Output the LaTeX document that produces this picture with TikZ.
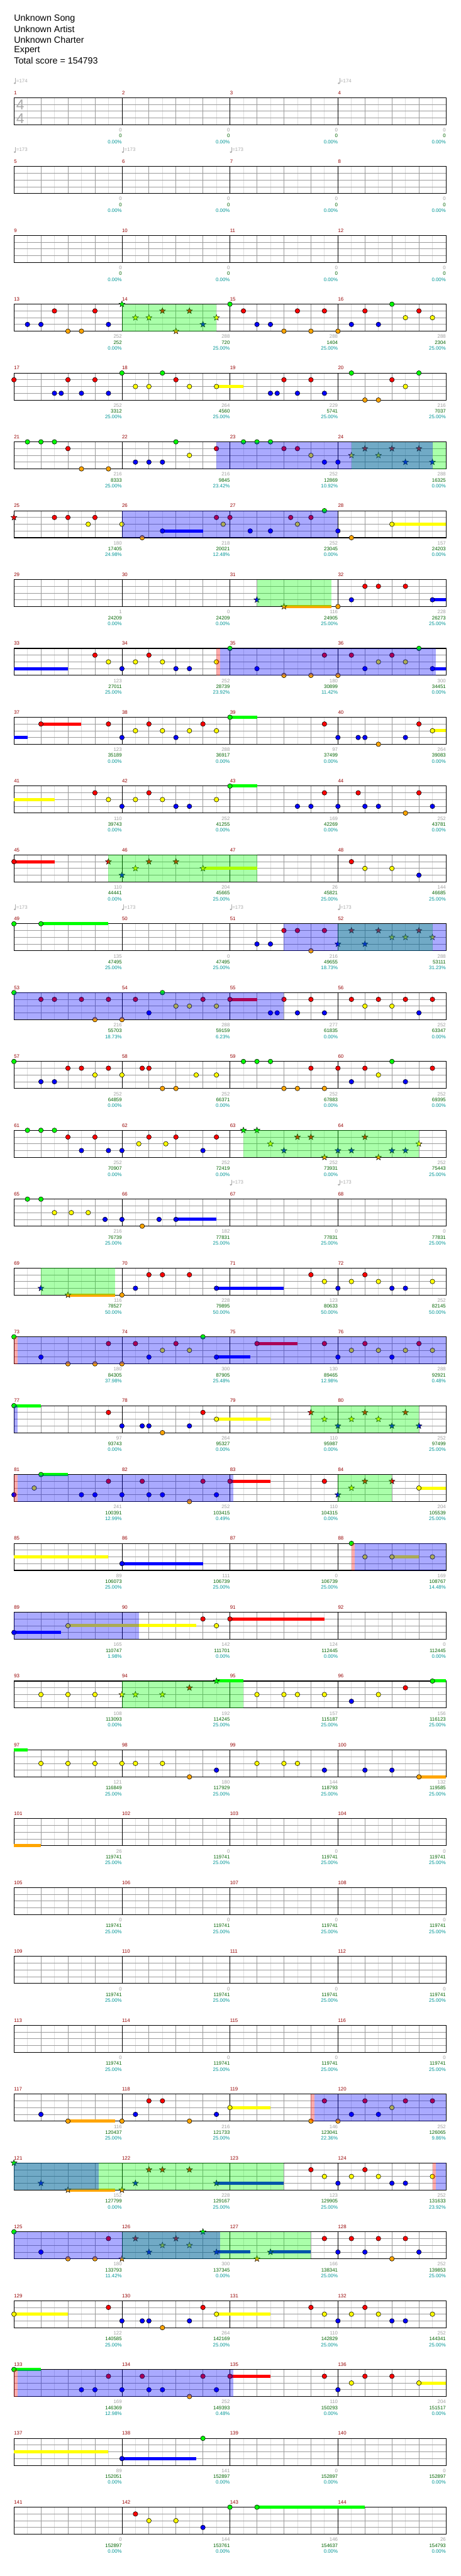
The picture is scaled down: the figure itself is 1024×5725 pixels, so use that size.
\documentclass[tikz,border=0pt]{standalone}
\usepackage{fontspec}
\setmainfont{Liberation Sans}
\usetikzlibrary{shapes.geometric}
\definecolor{lane0}{RGB}{0,255,0}
\definecolor{lane1}{RGB}{255,0,0}
\definecolor{lane2}{RGB}{255,255,0}
\definecolor{lane3}{RGB}{0,0,255}
\definecolor{lane4}{RGB}{255,165,0}
\definecolor{mnumc}{RGB}{150,0,0}
\definecolor{scgray}{RGB}{160,160,160}
\definecolor{scgreen}{RGB}{0,100,0}
\definecolor{scteal}{RGB}{0,150,150}
\definecolor{gridlt}{RGB}{222,222,222}
\definecolor{griddk}{RGB}{155,155,155}
\definecolor{tsig}{RGB}{170,170,170}
\tikzset{
  smalltxt/.style={inner sep=0pt, font=\fontsize{8.25pt}{9pt}\selectfont},
  mnum/.style={smalltxt, text=mnumc, anchor=west},
  scA/.style={smalltxt, text=scgray, anchor=east},
  scB/.style={smalltxt, text=scgreen, anchor=east},
  scC/.style={smalltxt, text=scteal, anchor=east},
  titletxt/.style={inner sep=0pt, anchor=west, font=\fontsize{15pt}{18pt}\selectfont},
  starnote/.style={star, star points=5, star point ratio=2.4, minimum size=10.5pt, inner sep=0pt, draw=black, line width=0.5pt},
}
\newcommand\chNotes[2]{%
  \foreach \TT/\LL in {#2}{%
    \filldraw[fill=lane\LL, draw=black, line width=0.6pt] ({31+15*\TT},{217+153*#1+15*\LL}) circle [radius=3.9pt];}}
\newcommand\chStars[2]{%
  \foreach \TT/\LL in {#2}{%
    \node[starnote, fill=lane\LL] (st-#1-\TT-\LL) at ({31+15*\TT},{217+153*#1+15*\LL}) {};}}
\newcommand\chSus[2]{%
  \foreach \TA/\TB/\LL in {#2}{%
    \fill[fill=lane\LL] ({31+15*\TA},{217+153*#1+15*\LL-3.5}) rectangle ({31+15*\TB},{217+153*#1+15*\LL+3.5});}}
\newcommand\chOver[3]{%
  \foreach \TA/\TB in {#3}{%
    \fill[fill=#2, fill opacity=0.333] ({31+15*\TA},{217+153*#1}) rectangle ({31+15*\TB},{217+153*#1+60});}}
\newcommand\chScores[2]{%
  \foreach \SA/\SB/\SC [count=\II from 0] in {#2}{%
    \pgfmathtruncatemacro\MM{4*#1+\II+1}%
    \node[scA] (sa\MM) at ({31+240*(\II+1)},{217+153*#1+72}) {\SA};
    \node[scB] (sb\MM) at ({31+240*(\II+1)},{217+153*#1+85}) {\SB};
    \node[scC] (sc\MM) at ({31+240*(\II+1)},{217+153*#1+98}) {\SC};}}
\newcommand\chTempo[3]{%
  \fill[tsig] ({#1+2},{#2+5}) ellipse [x radius=1.9pt, y radius=1.4pt];
  \draw[tsig, line width=0.5pt] ({#1+3.4},{#2+5}) -- ({#1+3.4},{#2-6});
  \node[smalltxt, text=tsig, anchor=west] (tp-#1-#2) at ({#1+5},#2) {=#3};}
\begin{document}
\begin{tikzpicture}[x=0.75pt,y=-0.75pt]
\useasboundingbox (0,0) rectangle (1024,5725);
\fill[white] (0,0) rectangle (1024,5725);
% title block
\node[titletxt] (t1) at (31,42) {Unknown Song};
\node[titletxt] (t2) at (31,65) {Unknown Artist};
\node[titletxt] (t3) at (31,88) {Unknown Charter};
\node[titletxt] (t4) at (31,112) {Expert};
\node[titletxt] (t5) at (31,135) {Total score = 154793};
% staves
\foreach \r in {0,...,35}{
  \pgfmathsetmacro\Y{217+153*\r}
  \foreach \k in {1,3,...,31} \draw[gridlt, line width=0.75pt] ({31+30*\k},\Y) -- ++(0,60);
  \foreach \k in {1,...,15} \draw[griddk, line width=0.75pt] ({31+60*\k},\Y) -- ++(0,60);
  \foreach \k in {1,2,3} \draw[griddk, line width=0.75pt] (31,{\Y+15*\k}) -- (991,{\Y+15*\k});
  \foreach \k in {1,2,3} \draw[black, line width=0.75pt] ({31+240*\k},\Y) -- ++(0,60);
  \draw[black, line width=1.1pt] (31,\Y) rectangle (991,{\Y+60});
  \foreach \c in {0,...,3}{
    \pgfmathtruncatemacro\m{4*\r+\c+1}
    \node[mnum] (mn\m) at ({31+240*\c},{\Y-11}) {\m};
  }
}
% time signature and tempo marks
\node[inner sep=0pt, text=tsig, font=\fontsize{24pt}{24pt}\selectfont] (ts1) at (45,233) {4};
\node[inner sep=0pt, text=tsig, font=\fontsize{24pt}{24pt}\selectfont] (ts2) at (45,263) {4};
\chTempo{31}{180}{174}
\chTempo{751}{180}{174}
\chTempo{31}{333}{173}
\chTempo{271}{333}{173}
\chTempo{511}{333}{173}
\chTempo{31}{2016}{173}
\chTempo{271}{2016}{173}
\chTempo{511}{2016}{173}
\chTempo{751}{2016}{173}
\chTempo{511}{2628}{173}
\chTempo{751}{2628}{173}
% row 3
\chNotes{3}{2/3,4/3,6/1,8/4,10/4,12/1,14/3,32/0,34/1,36/3,38/3,40/4,42/1,44/4,46/1,48/4,50/3,52/1,54/3,56/0,58/2,60/1,62/2}
\chStars{3}{16/0,18/2,20/2,22/1,24/4,26/1,28/3,30/2}
\chOver{3}{green}{16/30}
% row 4
\chSus{4}{30/34/2}
\chNotes{4}{0/1,6/3,7/3,8/1,10/3,12/1,14/3,16/0,18/2,20/2,22/0,24/1,26/2,30/2,38/3,39/3,40/1,42/3,44/1,46/3,50/0,52/4,54/4,56/1,58/2,60/0}
% row 5
\chNotes{5}{2/0,4/0,6/0,8/1,10/4,14/4,18/3,20/3,22/3,24/0,26/2,30/1,34/0,36/0,38/0,40/1,42/1,44/2,46/3,48/3}
\chStars{5}{50/2,52/1,54/2,56/1,58/3,60/1,62/3}
\chOver{5}{green}{50/64}
\chOver{5}{blue}{30/62}
% row 6
\chSus{6}{22/28/3,56/64/2}
\chNotes{6}{6/1,8/1,11/2,12/1,16/2,19/4,22/3,30/1,31/2,32/1,35/3,38/3,41/1,42/2,44/1,46/0,48/3,50/4,56/2}
\chStars{6}{0/1}
\chOver{6}{blue}{16/48}
% row 7
\chSus{7}{40/47/4,62/64/3}
\chNotes{7}{48/4,50/3,52/1,54/1,58/1,62/3}
\chStars{7}{36/3,40/4}
\chOver{7}{green}{36/47}
% row 8
\chSus{8}{0/8/3,62/64/3}
\chNotes{8}{12/1,14/2,16/3,18/2,20/1,22/2,24/3,26/3,30/2,32/0,36/3,40/4,44/4,46/1,48/4,50/1,52/3,54/2,56/1,58/2,60/0,62/3}
\chOver{8}{red}{30/30.5}
\chOver{8}{blue}{30.5/62.5}
% row 9
\chSus{9}{0/2/3,4/10/1,32/36/0,62/64/2}
\chNotes{9}{4/1,14/1,16/3,18/2,20/1,22/2,24/3,26/2,28/1,30/2,32/0,46/1,48/3,51/3,52/3,54/4,58/3,60/1,62/2}
% row 10
\chSus{10}{0/6/2,32/36/0}
\chNotes{10}{12/1,14/2,16/3,18/2,20/1,22/2,24/3,26/3,30/2,32/0,42/3,44/3,46/1,48/3,51/1,52/3,54/3,58/4,60/1,62/3}
% row 11
\chSus{11}{0/6/1,28/36/2}
\chNotes{11}{0/1,50/1,52/2,56/2,60/3}
\chStars{11}{14/1,16/3,18/2,20/1,24/1,28/2}
\chOver{11}{green}{14/36}
% row 12
\chSus{12}{4/14/0}
\chNotes{12}{0/0,4/0,36/3,38/3,40/1,42/1,44/4,46/1}
\chStars{12}{48/3,50/1,52/3,54/1,56/2,58/2,60/1,62/2}
\chOver{12}{green}{48/62}
\chOver{12}{blue}{40/64}
% row 13
\chSus{13}{32/36/1}
\chNotes{13}{0/0,4/1,6/1,10/1,12/4,14/1,16/4,18/1,20/3,22/0,24/2,26/2,28/1,30/2,32/1,38/3,39/3,40/1,42/3,44/1,46/3,50/1,52/2,54/1,56/2,58/1,60/3,62/1}
\chOver{13}{blue}{0/40}
% row 14
\chNotes{14}{0/0,4/3,6/3,8/1,10/1,12/2,14/1,16/2,19/1,20/1,22/4,24/4,27/2,30/2,34/0,36/0,38/0,40/4,42/4,44/1,46/4,48/1,50/3,52/1,54/2,56/0,58/3,62/1}
% row 15
\chNotes{15}{2/0,4/0,6/0,8/1,10/3,12/1,14/3,16/3,18.5/2,20/1,22.5/2,24/1,28/3,30/1}
\chStars{15}{34/0,36/0,38/2,40/3,42/1,44/1,46/4,48/3,50/3,52/1,54/4,56/3,58/3,60/2}
\chOver{15}{green}{34/60}
% row 16
\chSus{16}{24/30/3}
\chNotes{16}{2/0,4/0,6/2,8.5/2,11/2,13.5/3,16/3,19/4,21.5/3,24/3}
% row 17
\chSus{17}{8/15/4,30/40/3}
\chNotes{17}{16/4,18/3,20/1,22/1,26/1,30/3,44/1,46/2,48/3,50/2,52/1,54/2,56/3,58/3,62/2}
\chStars{17}{4/3,8/4}
\chOver{17}{green}{4/15}
% row 18
\chSus{18}{30/35/3,36/42/1}
\chNotes{18}{0/0,4/3,8/4,12/4,14/1,16/4,18/1,20/3,22/2,24/1,26/2,28/0,30/3,36/1,46/1,48/3,50/2,52/1,54/2,56/3,58/2,60/1,62/2}
\chOver{18}{red}{0/0.5}
\chOver{18}{blue}{0.5/64}
% row 19
\chSus{19}{0/4/0,30/38/2}
\chNotes{19}{0/0,14/1,16/3,19/3,20/3,22/4,26/3,28/1,30/2}
\chStars{19}{44/1,46/2,48/3,50/2,52/1,54/2,56/3,58/1,60/3}
\chOver{19}{blue}{0/0.5}
\chOver{19}{green}{44/60}
% row 20
\chSus{20}{4/8/0,32/38/1,60/64/2}
\chNotes{20}{0/3,3/2,4/0,10/3,12/3,14/1,16/3,19/1,20/3,22/3,26/4,28/1,30/3,32/1,46/1,60/2}
\chStars{20}{48/3,50/2,52/1,56/1}
\chOver{20}{red}{0/0.5}
\chOver{20}{blue}{0.5/32.5}
\chOver{20}{green}{48/56}
% row 21
\chSus{21}{0/14/2,16/28/3,56/60/2}
\chNotes{21}{16/3,50/0,52/2,56/2,62/2}
\chOver{21}{red}{50/50.5}
\chOver{21}{blue}{50.5/64}
% row 22
\chSus{22}{0/7/3,8/27/2,32/46/1}
\chNotes{22}{0/3,8/2,28/1,30/2,32/1}
\chOver{22}{blue}{0/18.5}
% row 23
\chSus{23}{30/34/0,62/64/0}
\chNotes{23}{4/2,8/2,12/2,36/2,40/2,42/2,46/2,50/3,54/2,58/1,62/0}
\chStars{23}{16/2,18/2,22/2,26/1,30/0}
\chOver{23}{green}{16/34}
% row 24
\chSus{24}{0/2/0,60/64/4}
\chNotes{24}{4/2,8/2,12/2,16/2,18/2,22/2,26/4,30/3,36/2,40/2,42/2,46/3,52/3,56/3,60/4}
% row 25
\chSus{25}{0/4/4}
% row 29
\chSus{29}{8/15/4,32/38/2}
\chNotes{29}{4/3,8/4,16/4,18/3,20/1,22/1,26/4,30/3,32/2,44/4,46/1,48/4,50/3,52/1,54/3,56/2,58/1,62/1}
\chOver{29}{red}{44/44.5}
\chOver{29}{blue}{44.5/64}
% row 30
\chSus{30}{8/15/4,30/40/3}
\chNotes{30}{44/1,46/2,48/3,50/2,52/1,54/2,56/3,58/3,62/2}
\chStars{30}{0/0,4/3,8/4,16/4,18/3,20/1,22/1,26/1,30/3}
\chOver{30}{green}{0/40}
\chOver{30}{blue}{0/12.6}
\chOver{30}{red}{62/62.5}
\chOver{30}{blue}{62.5/64}
% row 31
\chSus{31}{30/35/3,38/44/3}
\chNotes{31}{0/0,4/3,8/4,12/4,14/1,46/1,48/3,50/1,52/3,54/1,56/4,58/1,60/3}
\chStars{31}{16/4,18/1,20/3,22/2,24/1,26/2,28/0,30/3,36/4,38/3}
\chOver{31}{green}{16/44}
\chOver{31}{blue}{0/30.5}
% row 32
\chSus{32}{0/8/2,30/38/2}
\chNotes{32}{0/2,14/1,16/3,19/3,20/3,22/4,26/3,28/1,30/2,44/1,46/2,48/3,50/2,52/1,54/2,56/3,58/3,62/2}
% row 33
\chSus{33}{0/4/0,32/38/1,60/64/2}
\chNotes{33}{0/0,10/3,12/3,14/1,16/3,19/1,20/3,22/3,26/4,28/1,30/3,32/1,46/1,48/3,50/2,52/1,56/1,60/2}
\chOver{33}{red}{0/0.5}
\chOver{33}{blue}{0.5/32.5}
% row 34
\chSus{34}{0/14/2,16/27/3}
\chNotes{34}{16/3,28/0}
% row 35
\chSus{35}{36/52/0}
\chNotes{35}{18/1,20/2,24/2,28/3,32/0,36/0}
% scores
\chScores{0}{0/0/0.00\%,0/0/0.00\%,0/0/0.00\%,0/0/0.00\%}
\chScores{1}{0/0/0.00\%,0/0/0.00\%,0/0/0.00\%,0/0/0.00\%}
\chScores{2}{0/0/0.00\%,0/0/0.00\%,0/0/0.00\%,0/0/0.00\%}
\chScores{3}{252/252/0.00\%,288/720/25.00\%,288/1404/25.00\%,288/2304/25.00\%}
\chScores{4}{252/3312/25.00\%,264/4560/25.00\%,229/5741/25.00\%,216/7037/25.00\%}
\chScores{5}{216/8333/25.00\%,216/9845/23.42\%,252/12869/10.92\%,288/16325/0.00\%}
\chScores{6}{180/17405/24.98\%,218/20021/12.48\%,252/23045/0.00\%,157/24203/0.00\%}
\chScores{7}{1/24209/0.00\%,0/24209/0.00\%,116/24905/25.00\%,228/26273/25.00\%}
\chScores{8}{123/27011/25.00\%,252/28739/23.92\%,180/30899/11.42\%,300/34451/0.00\%}
\chScores{9}{123/35189/0.00\%,288/36917/0.00\%,97/37499/0.00\%,264/39083/0.00\%}
\chScores{10}{110/39743/0.00\%,252/41255/0.00\%,169/42269/0.00\%,252/43781/0.00\%}
\chScores{11}{110/44441/0.00\%,204/45665/25.00\%,26/45821/25.00\%,144/46685/25.00\%}
\chScores{12}{135/47495/25.00\%,0/47495/25.00\%,216/49655/18.73\%,288/53111/31.23\%}
\chScores{13}{216/55703/18.73\%,288/59159/6.23\%,277/61835/0.00\%,252/63347/0.00\%}
\chScores{14}{252/64859/0.00\%,252/66371/0.00\%,252/67883/0.00\%,252/69395/0.00\%}
\chScores{15}{252/70907/0.00\%,252/72419/0.00\%,252/73931/0.00\%,252/75443/25.00\%}
\chScores{16}{216/76739/25.00\%,182/77831/25.00\%,0/77831/25.00\%,0/77831/25.00\%}
\chScores{17}{116/78527/50.00\%,228/79895/50.00\%,123/80633/50.00\%,252/82145/50.00\%}
\chScores{18}{180/84305/37.98\%,300/87905/25.48\%,130/89465/12.98\%,288/92921/0.48\%}
\chScores{19}{97/93743/0.00\%,264/95327/0.00\%,110/95987/0.00\%,252/97499/25.00\%}
\chScores{20}{241/100391/12.99\%,252/103415/0.49\%,110/104315/0.00\%,204/105539/25.00\%}
\chScores{21}{89/106073/25.00\%,111/106739/25.00\%,0/106739/25.00\%,169/108767/14.48\%}
\chScores{22}{165/110747/1.98\%,142/111701/0.00\%,124/112445/0.00\%,0/112445/0.00\%}
\chScores{23}{108/113093/0.00\%,192/114245/25.00\%,157/115187/25.00\%,156/116123/25.00\%}
\chScores{24}{121/116849/25.00\%,180/117929/25.00\%,144/118793/25.00\%,132/119585/25.00\%}
\chScores{25}{26/119741/25.00\%,0/119741/25.00\%,0/119741/25.00\%,0/119741/25.00\%}
\chScores{26}{0/119741/25.00\%,0/119741/25.00\%,0/119741/25.00\%,0/119741/25.00\%}
\chScores{27}{0/119741/25.00\%,0/119741/25.00\%,0/119741/25.00\%,0/119741/25.00\%}
\chScores{28}{0/119741/25.00\%,0/119741/25.00\%,0/119741/25.00\%,0/119741/25.00\%}
\chScores{29}{116/120437/25.00\%,216/121733/25.00\%,146/123041/22.36\%,252/126065/9.86\%}
\chScores{30}{152/127799/0.00\%,228/129167/25.00\%,123/129905/25.00\%,252/131633/23.92\%}
\chScores{31}{180/133793/11.42\%,300/137345/0.00\%,166/138341/25.00\%,252/139853/25.00\%}
\chScores{32}{122/140585/25.00\%,264/142169/25.00\%,110/142829/25.00\%,252/144341/25.00\%}
\chScores{33}{169/146369/12.98\%,252/149393/0.48\%,110/150293/0.00\%,204/151517/0.00\%}
\chScores{34}{89/152051/0.00\%,141/152897/0.00\%,0/152897/0.00\%,0/152897/0.00\%}
\chScores{35}{0/152897/0.00\%,144/153761/0.00\%,146/154637/0.00\%,26/154793/0.00\%}
\end{tikzpicture}
\end{document}
